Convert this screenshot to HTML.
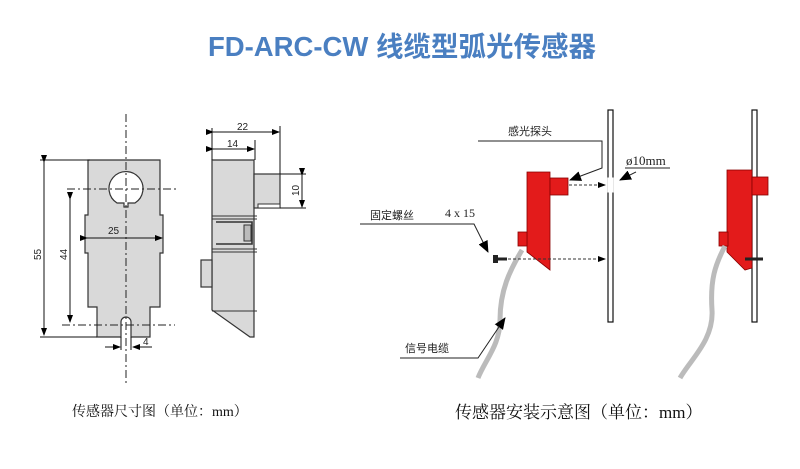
<!DOCTYPE html>
<html><head><meta charset="utf-8"><style>
html,body{margin:0;padding:0;background:#fff;width:800px;height:469px;overflow:hidden}
svg{display:block}
</style></head><body>
<svg width="800" height="469" viewBox="0 0 800 469" xmlns="http://www.w3.org/2000/svg" font-family="Liberation Sans, Noto Sans CJK SC, sans-serif">
<defs>
<marker id="a" markerWidth="8" markerHeight="8" refX="7" refY="4" orient="auto" markerUnits="userSpaceOnUse"><path d="M0,1 L8,4 L0,7 z" fill="#000"/></marker>
<marker id="b" markerWidth="12" markerHeight="10" refX="11" refY="5" orient="auto" markerUnits="userSpaceOnUse"><path d="M0,0 L12,5 L0,10 z" fill="#000"/></marker>
</defs>
<text x="402" y="56" text-anchor="middle" font-size="27.5" font-weight="bold" fill="#4a7fc1">FD-ARC-CW 线缆型弧光传感器</text>

<!-- front view -->
<path d="M88,160 H160 V215 H163 V253 H160 V307 H150 V337 H131 V322 A5,5 0 0 0 121,322 V337 H97 V307 H88 V253 H85 V215 H88 Z" fill="#d9d9d9" stroke="#333" stroke-width="1.2"/>
<path d="M117,203 A17,17 0 1 1 135,203 H128 V207 H124 V203 Z" fill="#fff" stroke="#333" stroke-width="1.2"/>
<g stroke="#222" stroke-width="1" stroke-dasharray="8,3,2,3" fill="none">
<line x1="126" y1="114" x2="126" y2="386"/>
<line x1="67" y1="189" x2="178" y2="189"/>
<line x1="62" y1="325" x2="175" y2="325"/>
</g>
<g stroke="#111" stroke-width="1" fill="none">
<line x1="40" y1="160" x2="90" y2="160"/><line x1="40" y1="337" x2="97" y2="337"/>
<line x1="44" y1="162" x2="44" y2="335" marker-start="url(#a)" marker-end="url(#a)"/>
<line x1="70" y1="199" x2="70" y2="322" marker-start="url(#a)" marker-end="url(#a)"/>
<line x1="87" y1="238" x2="162" y2="238" marker-start="url(#a)" marker-end="url(#a)"/>
<line x1="105" y1="347" x2="120" y2="347" marker-end="url(#a)"/>
<line x1="152" y1="347" x2="133" y2="347" marker-end="url(#a)"/>
<line x1="121" y1="337" x2="121" y2="350"/><line x1="131" y1="337" x2="131" y2="350"/>
</g>
<g font-size="10" fill="#222">
<text x="108" y="234">25</text>
<text x="143" y="345">4</text>
<text transform="translate(41,260) rotate(-90)">55</text>
<text transform="translate(67,260) rotate(-90)">44</text>
</g>

<!-- side view -->
<path d="M212,160 H254 V337 H250 L212,310 Z" fill="#d9d9d9" stroke="#333" stroke-width="1.2"/>
<rect x="254" y="174" width="26" height="34" fill="#d9d9d9" stroke="#333" stroke-width="1.2"/>
<rect x="258" y="204" width="22" height="4" fill="#fff" stroke="#333"/>
<rect x="201" y="260" width="11" height="27" fill="#d9d9d9" stroke="#333" stroke-width="1.2"/>
<g stroke="#333" stroke-width="1" fill="none">
<line x1="212" y1="216" x2="257" y2="216"/><line x1="212" y1="219" x2="257" y2="219"/>
<line x1="212" y1="249" x2="257" y2="249"/><line x1="212" y1="252" x2="257" y2="252"/>
<line x1="212" y1="311" x2="257" y2="311"/>
<path d="M216,222 H252 V244 H216" stroke-width="1.6"/>
<rect x="244" y="225" width="7" height="16" fill="#bbb"/>
</g>
<g stroke="#111" stroke-width="1" fill="none">
<line x1="212" y1="128" x2="212" y2="160"/><line x1="280" y1="126" x2="280" y2="174"/><line x1="255" y1="140" x2="255" y2="160"/>
<line x1="213" y1="132" x2="279" y2="132" marker-start="url(#a)" marker-end="url(#a)"/>
<line x1="213" y1="149" x2="254" y2="149" marker-start="url(#a)" marker-end="url(#a)"/>
<line x1="280" y1="174" x2="306" y2="174"/><line x1="280" y1="208" x2="306" y2="208"/>
<line x1="302" y1="175" x2="302" y2="207" marker-start="url(#a)" marker-end="url(#a)"/>
</g>
<g font-size="10" fill="#222">
<text x="237" y="130">22</text><text x="227" y="147">14</text>
<text transform="translate(299,196) rotate(-90)">10</text>
</g>
<text x="72" y="416" font-size="14" font-family="Liberation Serif, Noto Serif CJK SC, serif" fill="#111">传感器尺寸图（单位：mm）</text>

<!-- install view 1 -->
<rect x="608" y="110" width="5" height="212" fill="#fff" stroke="#111" stroke-width="1.2"/>
<rect x="608" y="178" width="5" height="14" fill="#fff" stroke="#fff"/>
<path d="M527,172 H550 V270 L527,252 Z" fill="#e31b1b" stroke="#800" stroke-width="0.8"/>
<rect x="550" y="178" width="18" height="17" fill="#e31b1b" stroke="#800" stroke-width="0.8"/>
<rect x="518" y="232" width="9" height="14" fill="#e31b1b" stroke="#800" stroke-width="0.8"/>
<path d="M522,250 C510,270 500,290 500,320 C500,345 485,360 478,378" stroke="#bbb" stroke-width="5" fill="none"/>
<g stroke="#333" stroke-width="1" stroke-dasharray="3,2" fill="none">
<line x1="569" y1="185" x2="605" y2="185" marker-end="url(#a)"/>
<line x1="508" y1="259" x2="605" y2="259" marker-end="url(#a)"/>
</g>
<rect x="493" y="255" width="5" height="8" fill="#222"/><line x1="498" y1="259" x2="507" y2="259" stroke="#222" stroke-width="3"/>
<g stroke="#222" stroke-width="1" fill="none">
<polyline points="478,141 602,141 602,168 570,180" marker-end="url(#b)"/>
<line x1="636" y1="172" x2="620" y2="180" marker-end="url(#b)"/>
<line x1="625" y1="168" x2="670" y2="168"/>
<polyline points="360,224 474,224 488,252" marker-end="url(#b)"/>
<polyline points="400,358 478,358 505,318" marker-end="url(#b)"/>
</g>
<g font-size="11" fill="#222">
<text x="508" y="135">感光探头</text>
<text x="370" y="219">固定螺丝</text>
<text x="405" y="352">信号电缆</text>
</g>
<text x="445" y="217" font-size="12" font-family="Liberation Serif, serif" fill="#222">4 x 15</text>
<text x="626" y="165" font-size="13" font-family="Liberation Serif, serif" fill="#222">ø10mm</text>

<!-- install view 2 -->
<rect x="752" y="110" width="5" height="212" fill="#fff" stroke="#111" stroke-width="1.2"/>
<path d="M727,170 H752 V268 L745,270 L727,252 Z" fill="#e31b1b" stroke="#800" stroke-width="0.8"/>
<rect x="752" y="177" width="16" height="18" fill="#e31b1b" stroke="#800" stroke-width="0.8"/>
<rect x="719" y="232" width="9" height="14" fill="#e31b1b" stroke="#800" stroke-width="0.8"/>
<line x1="745" y1="259" x2="763" y2="259" stroke="#222" stroke-width="3"/>
<path d="M725,246 C715,265 710,280 712,310 C714,340 690,360 680,378" stroke="#bbb" stroke-width="5" fill="none"/>

<text x="455" y="418" font-size="17" font-family="Liberation Serif, Noto Serif CJK SC, serif" fill="#111">传感器安装示意图（单位：mm）</text>
</svg>
</body></html>
